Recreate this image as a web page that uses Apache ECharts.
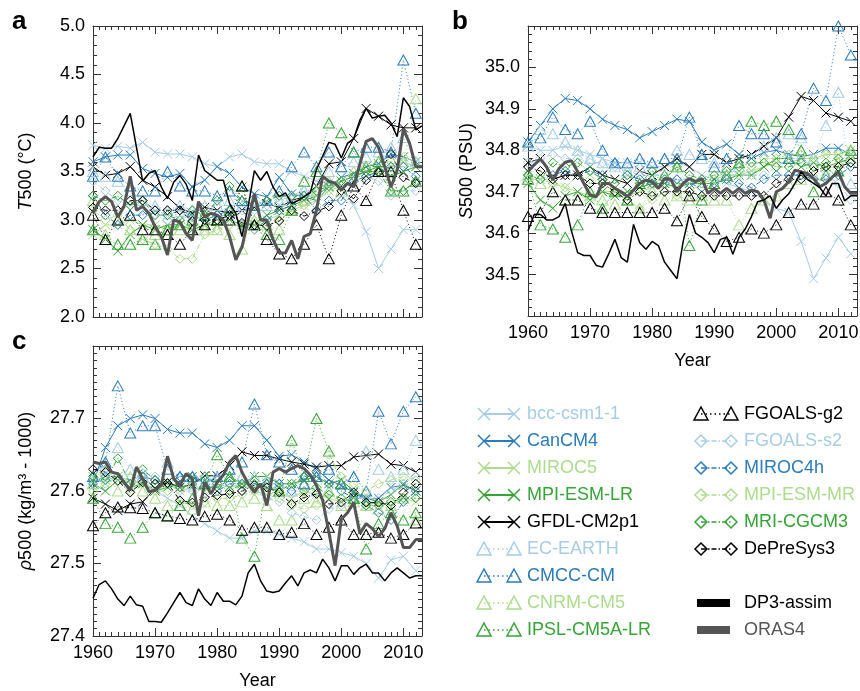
<!DOCTYPE html>
<html>
<head>
<meta charset="utf-8">
<script src="https://cdn.jsdelivr.net/npm/echarts@6/dist/echarts.min.js"></script>
<style>
  html, body { margin: 0; padding: 0; background: #fff; }
  #main { width: 860px; height: 691px; }
</style>
</head>
<body>
<div id="main"></div>
<script>
// years
var modelYears = [1960,1962,1964,1966,1968,1970,1972,1974,1976,1978,1980,1982,1984,1986,1988,1990,1992,1994,1996,1998,2000,2002,2004,2006,2008,2010,2012];
var obsYears = [1960,1961,1962,1963,1964,1965,1966,1967,1968,1969,1970,1971,1972,1973,1974,1975,1976,1977,1978,1979,1980,1981,1982,1983,1984,1985,1986,1987,1988,1989,1990,1991,1992,1993,1994,1995,1996,1997,1998,1999,2000,2001,2002,2003,2004,2005,2006,2007,2008,2009,2010,2011,2012,2013];

// panel a : T500
var tBcc     = [3.77,3.74,3.76,3.74,3.80,3.70,3.68,3.68,3.65,3.58,3.55,3.65,3.68,3.60,3.58,3.58,3.50,3.45,3.40,3.38,3.35,3.15,2.88,2.50,2.70,2.90,2.90];
var tCan     = [3.60,3.65,3.67,3.67,3.53,3.48,3.44,3.48,3.34,3.41,3.55,3.48,3.34,3.27,3.24,3.44,3.27,3.24,3.20,3.34,3.44,3.48,3.55,3.58,3.68,3.65,3.60];
var tMiroc5  = [2.85,2.95,2.95,3.00,2.95,2.95,2.90,2.95,2.90,2.95,3.00,3.00,2.90,2.95,3.00,3.05,3.10,3.15,3.20,3.30,3.35,3.40,3.45,3.50,3.55,3.60,3.55];
var tMpiLr   = [2.90,2.80,2.68,2.85,2.95,2.90,2.95,2.95,2.90,2.95,2.95,3.00,2.95,2.95,3.05,3.10,3.15,3.20,3.25,3.35,3.40,3.45,3.50,3.55,3.45,3.50,3.55];
var tGfdl    = [3.55,3.46,3.48,3.55,3.41,3.34,3.24,3.12,3.07,3.13,3.10,3.07,3.10,3.13,3.17,3.13,3.20,3.24,3.35,3.58,3.60,3.84,4.15,4.07,3.98,3.95,3.95];
var tEc      = [3.50,3.45,3.40,3.30,3.20,3.15,3.10,3.15,3.10,3.15,3.15,3.20,3.15,3.20,3.15,3.20,3.25,3.30,3.30,3.50,3.55,3.60,3.65,3.70,3.75,3.85,3.60];
var tCmcc    = [3.45,3.65,3.45,3.35,3.30,3.30,3.50,3.35,3.30,3.30,3.25,3.30,3.20,3.15,3.20,3.30,3.55,3.70,3.55,3.70,3.55,3.70,3.75,3.75,3.70,4.65,4.10];
var tCnrm    = [3.20,2.85,3.00,2.90,2.80,2.85,2.90,2.90,2.95,2.90,2.90,2.85,2.70,3.00,2.95,2.90,3.10,3.20,3.30,3.40,3.30,3.50,3.55,3.50,3.55,3.60,4.25];
var tIpsl    = [2.90,2.80,2.75,2.75,2.80,2.75,2.90,2.95,3.00,3.05,3.00,3.10,3.35,2.95,2.85,2.80,3.10,3.40,3.50,4.00,3.90,3.70,3.55,3.60,3.30,3.30,3.40];
var tFg2     = [3.05,2.80,3.00,3.05,2.90,2.90,2.85,2.75,2.90,2.95,3.00,3.00,3.35,2.95,2.80,2.65,2.60,2.75,2.95,2.60,3.05,3.35,3.20,3.50,3.50,3.10,2.75];
var tFs2     = [3.40,3.30,3.20,3.15,3.10,3.05,3.00,3.05,3.00,3.00,3.05,3.00,3.10,3.10,3.15,3.20,3.25,3.30,3.30,3.35,3.40,3.40,3.45,3.40,3.25,3.30,3.30];
var tMiroc4h = [3.25,3.05,2.95,3.05,3.05,3.10,3.05,3.10,3.05,3.00,3.05,3.10,2.95,2.90,3.00,3.10,3.15,3.25,3.10,3.20,3.20,3.40,3.45,3.50,3.55,3.55,3.45];
var tMpiMr   = [3.10,3.00,3.05,2.90,2.80,2.75,2.70,2.60,2.60,2.85,2.90,2.95,2.95,2.90,2.95,3.00,3.10,3.15,3.25,3.30,3.40,3.45,3.55,3.60,3.60,3.65,3.60];
var tMri     = [3.25,3.20,3.25,3.15,3.20,3.05,3.05,3.00,3.10,3.05,3.20,3.35,3.20,3.15,3.20,3.25,3.25,3.25,3.30,3.35,3.40,3.45,3.50,3.50,3.30,3.30,3.40];
var tDps3    = [3.13,3.10,3.10,3.20,3.20,3.10,3.10,3.10,2.99,3.00,3.00,3.05,2.97,2.95,2.94,2.99,3.10,3.04,3.09,3.14,3.30,3.22,3.41,3.49,3.68,3.44,3.38];
var tAssim   = [3.65,3.75,3.74,3.74,3.84,3.97,4.10,3.75,3.40,3.48,
                3.51,3.34,3.22,3.39,3.46,3.37,3.20,3.67,3.51,3.46,
                3.41,3.41,3.17,3.07,2.83,3.14,3.51,3.41,3.50,3.34,
                3.24,3.28,3.17,3.20,3.24,3.28,3.52,3.66,3.80,3.78,
                3.64,3.79,3.84,4.03,4.15,4.05,4.07,4.08,4.00,3.86,
                4.26,4.17,3.93,3.97];
var tOras    = [3.07,3.19,3.24,3.19,3.03,3.14,3.45,3.10,3.14,3.07,
                2.93,2.83,2.64,3.00,2.98,2.86,2.79,3.19,3.03,3.07,
                3.05,3.00,2.83,2.59,2.72,3.00,3.27,3.00,3.00,2.80,
                2.66,2.66,2.79,2.60,2.83,2.86,3.10,3.45,3.40,3.38,
                3.31,3.38,3.34,3.58,3.81,3.84,3.75,3.55,3.34,3.51,
                3.94,3.79,3.55,3.55];

// panel b : S500
var sBcc     = [34.81,34.80,34.80,34.81,34.80,34.79,34.78,34.77,34.77,34.77,34.76,34.76,34.77,34.76,34.74,34.73,34.72,34.71,34.70,34.68,34.66,34.65,34.58,34.49,34.54,34.59,34.55];
var sCan     = [34.82,34.86,34.90,34.925,34.92,34.90,34.875,34.86,34.85,34.83,34.845,34.86,34.875,34.87,34.82,34.80,34.815,34.79,34.78,34.795,34.80,34.79,34.785,34.79,34.805,34.805,34.79];
var sMiroc5  = [34.74,34.73,34.72,34.71,34.70,34.69,34.70,34.70,34.69,34.70,34.71,34.71,34.72,34.72,34.72,34.73,34.74,34.74,34.75,34.76,34.77,34.77,34.78,34.78,34.79,34.79,34.80];
var sMpiLr   = [34.72,34.68,34.66,34.69,34.70,34.68,34.70,34.69,34.70,34.71,34.72,34.72,34.71,34.72,34.72,34.72,34.73,34.74,34.74,34.76,34.78,34.78,34.76,34.77,34.76,34.77,34.78];
var sGfdl    = [34.77,34.78,34.73,34.74,34.74,34.76,34.74,34.73,34.72,34.75,34.74,34.76,34.78,34.76,34.79,34.79,34.77,34.78,34.79,34.81,34.83,34.88,34.93,34.92,34.89,34.88,34.87];
var sEc      = [34.81,34.85,34.84,34.82,34.80,34.78,34.77,34.76,34.75,34.76,34.77,34.78,34.80,34.79,34.78,34.77,34.76,34.76,34.78,34.81,34.83,34.84,34.83,34.78,34.86,34.94,34.72];
var sCmcc    = [34.82,34.83,34.88,34.85,34.84,34.87,34.80,34.77,34.77,34.78,34.77,34.78,34.78,34.88,34.79,34.76,34.78,34.86,34.84,34.84,34.82,34.78,34.84,34.95,34.92,35.10,35.03];
var sCnrm    = [34.74,34.72,34.70,34.68,34.68,34.69,34.68,34.67,34.68,34.66,34.70,34.68,34.69,34.68,34.69,34.68,34.68,34.62,34.66,34.68,34.69,34.72,34.73,34.74,34.76,34.77,34.78];
var sIpsl    = [34.73,34.62,34.61,34.59,34.62,34.70,34.66,34.70,34.68,34.72,34.73,34.74,34.76,34.57,34.68,34.72,34.74,34.77,34.87,34.86,34.87,34.85,34.80,34.70,34.74,34.75,34.80];
var sFg2     = [34.64,34.65,34.70,34.68,34.68,34.66,34.65,34.65,34.65,34.65,34.65,34.66,34.63,34.69,34.64,34.61,34.58,34.59,34.61,34.60,34.62,34.65,34.67,34.67,34.70,34.68,34.62];
var sFs2     = [34.77,34.78,34.79,34.78,34.78,34.77,34.77,34.76,34.75,34.74,34.74,34.74,34.73,34.73,34.73,34.73,34.74,34.74,34.74,34.74,34.76,34.78,34.78,34.76,34.74,34.72,34.68];
var sMiroc4h = [34.74,34.73,34.74,34.75,34.74,34.75,34.74,34.77,34.74,34.73,34.72,34.72,34.73,34.72,34.71,34.72,34.73,34.72,34.71,34.73,34.74,34.74,34.74,34.73,34.73,34.74,34.76];
var sMpiMr   = [34.73,34.74,34.72,34.71,34.74,34.73,34.72,34.70,34.68,34.66,34.68,34.70,34.69,34.70,34.72,34.73,34.75,34.74,34.76,34.78,34.78,34.79,34.79,34.78,34.79,34.79,34.80];
var sMri     = [34.74,34.73,34.77,34.76,34.77,34.75,34.73,34.72,34.74,34.72,34.75,34.73,34.76,34.74,34.73,34.74,34.75,34.76,34.77,34.77,34.76,34.76,34.77,34.76,34.77,34.78,34.77];
var sDps3    = [34.76,34.75,34.73,34.74,34.74,34.72,34.72,34.70,34.68,34.70,34.69,34.70,34.70,34.70,34.69,34.69,34.69,34.69,34.69,34.69,34.72,34.73,34.73,34.75,34.76,34.76,34.77];
var sAssim   = [34.605,34.645,34.645,34.632,34.632,34.640,34.672,34.605,34.553,34.546,
                34.546,34.522,34.518,34.550,34.585,34.541,34.530,34.621,34.577,34.561,
                34.580,34.570,34.530,34.510,34.490,34.580,34.645,34.600,34.590,34.577,
                34.553,34.585,34.590,34.549,34.590,34.610,34.640,34.676,34.680,34.690,
                34.660,34.680,34.695,34.720,34.748,34.730,34.720,34.710,34.690,34.720,
                34.720,34.678,34.690,34.690];
var sOras    = [34.748,34.765,34.779,34.760,34.728,34.756,34.771,34.775,34.748,34.720,
                34.692,34.688,34.720,34.720,34.708,34.700,34.688,34.704,34.720,34.728,
                34.724,34.708,34.732,34.730,34.700,34.720,34.732,34.724,34.732,34.696,
                34.708,34.696,34.708,34.696,34.708,34.696,34.704,34.700,34.680,34.636,
                34.700,34.708,34.724,34.752,34.748,34.744,34.732,34.712,34.720,34.735,
                34.748,34.712,34.696,34.696];

// panel c : rho500 - 1000
var rBcc     = [27.62,27.61,27.62,27.615,27.61,27.60,27.59,27.58,27.565,27.555,27.545,27.535,27.535,27.545,27.545,27.54,27.535,27.53,27.52,27.52,27.515,27.51,27.50,27.48,27.505,27.51,27.49];
var rCan     = [27.61,27.66,27.69,27.70,27.705,27.70,27.685,27.68,27.68,27.665,27.66,27.67,27.69,27.69,27.67,27.648,27.65,27.64,27.63,27.615,27.608,27.598,27.588,27.59,27.605,27.608,27.60];
var rMiroc5  = [27.62,27.615,27.62,27.61,27.615,27.60,27.61,27.60,27.605,27.60,27.61,27.605,27.61,27.60,27.595,27.60,27.59,27.60,27.595,27.59,27.585,27.59,27.58,27.585,27.58,27.59,27.585];
var rMpiLr   = [27.61,27.60,27.615,27.605,27.61,27.60,27.605,27.61,27.62,27.61,27.60,27.62,27.61,27.62,27.62,27.61,27.61,27.615,27.62,27.61,27.615,27.60,27.59,27.585,27.595,27.61,27.60];
var rGfdl    = [27.59,27.582,27.573,27.582,27.585,27.603,27.612,27.605,27.609,27.621,27.621,27.635,27.654,27.649,27.649,27.644,27.64,27.637,27.633,27.635,27.635,27.647,27.649,27.651,27.637,27.635,27.626];
var rEc      = [27.61,27.62,27.66,27.63,27.62,27.61,27.64,27.62,27.61,27.62,27.615,27.62,27.62,27.62,27.615,27.61,27.60,27.61,27.60,27.60,27.61,27.62,27.655,27.63,27.62,27.63,27.67];
var rCmcc    = [27.62,27.64,27.745,27.68,27.69,27.69,27.63,27.62,27.62,27.61,27.62,27.63,27.64,27.72,27.65,27.64,27.63,27.61,27.62,27.63,27.61,27.62,27.60,27.71,27.665,27.71,27.73];
var rCnrm    = [27.61,27.63,27.60,27.62,27.60,27.59,27.58,27.58,27.575,27.585,27.58,27.58,27.585,27.59,27.58,27.56,27.56,27.59,27.585,27.60,27.58,27.585,27.58,27.575,27.58,27.59,27.56];
var rIpsl    = [27.59,27.555,27.55,27.535,27.55,27.57,27.565,27.58,27.59,27.61,27.65,27.62,27.535,27.51,27.61,27.60,27.67,27.62,27.70,27.655,27.61,27.59,27.52,27.555,27.57,27.56,27.57];
var rFg2     = [27.552,27.57,27.578,27.577,27.576,27.57,27.566,27.562,27.56,27.565,27.568,27.56,27.546,27.55,27.55,27.54,27.543,27.555,27.54,27.55,27.56,27.54,27.54,27.543,27.535,27.54,27.556];
var rFs2     = [27.62,27.63,27.62,27.61,27.625,27.62,27.61,27.60,27.60,27.61,27.62,27.61,27.60,27.60,27.59,27.585,27.57,27.565,27.56,27.575,27.58,27.59,27.59,27.59,27.60,27.61,27.62];
var rMiroc4h = [27.61,27.62,27.62,27.61,27.62,27.615,27.61,27.62,27.62,27.615,27.60,27.61,27.61,27.605,27.61,27.61,27.60,27.62,27.62,27.61,27.60,27.59,27.58,27.57,27.56,27.585,27.60];
var rMpiMr   = [27.60,27.61,27.62,27.60,27.61,27.60,27.60,27.585,27.58,27.585,27.59,27.59,27.595,27.60,27.595,27.59,27.58,27.575,27.58,27.65,27.62,27.61,27.60,27.61,27.615,27.62,27.615];
var rMri     = [27.62,27.615,27.645,27.61,27.63,27.615,27.61,27.605,27.61,27.62,27.61,27.60,27.61,27.61,27.605,27.60,27.61,27.60,27.605,27.595,27.59,27.585,27.58,27.58,27.585,27.59,27.59];
var rDps3    = [27.63,27.626,27.614,27.598,27.612,27.61,27.611,27.587,27.584,27.591,27.594,27.596,27.60,27.608,27.605,27.598,27.582,27.591,27.596,27.582,27.584,27.598,27.584,27.584,27.58,27.598,27.61];
var rAssim   = [27.452,27.471,27.476,27.465,27.451,27.442,27.455,27.443,27.441,27.420,
                27.420,27.419,27.432,27.446,27.460,27.446,27.442,27.465,27.451,27.442,
                27.460,27.448,27.448,27.443,27.455,27.487,27.499,27.476,27.462,27.460,
                27.462,27.473,27.483,27.469,27.487,27.491,27.487,27.506,27.494,27.476,
                27.497,27.497,27.485,27.494,27.499,27.487,27.487,27.476,27.487,27.494,
                27.487,27.480,27.483,27.483];
var rOras    = [27.640,27.638,27.640,27.626,27.624,27.612,27.601,27.633,27.617,27.599,
                27.601,27.608,27.648,27.617,27.608,27.624,27.617,27.566,27.612,27.596,
                27.612,27.622,27.640,27.649,27.626,27.610,27.598,27.610,27.580,27.626,
                27.631,27.626,27.631,27.635,27.631,27.622,27.608,27.587,27.543,27.497,
                27.561,27.570,27.584,27.541,27.555,27.548,27.537,27.548,27.570,27.552,
                27.522,27.522,27.533,27.533];

// models, in legend order
var modelNames  = ['bcc-csm1-1','CanCM4','MIROC5','MPI-ESM-LR','GFDL-CM2p1','EC-EARTH','CMCC-CM','CNRM-CM5','IPSL-CM5A-LR',
                   'FGOALS-g2','FGOALS-s2','MIROC4h','MPI-ESM-MR','MRI-CGCM3','DePreSys3'];
var modelMarks  = ['x','x','x','x','x','tri','tri','tri','tri','tri','dia','dia','dia','dia','dia'];
var lightBlue = '#a6cde4', blue = '#2b7bba', lightGreen = '#acdc8c', green = '#36a336';
var modelColors = [lightBlue, blue, lightGreen, green, '#000', lightBlue, blue, lightGreen, green,
                   '#000', lightBlue, blue, lightGreen, green, '#000'];
var panelT = [tBcc,tCan,tMiroc5,tMpiLr,tGfdl,tEc,tCmcc,tCnrm,tIpsl,tFg2,tFs2,tMiroc4h,tMpiMr,tMri,tDps3];
var panelS = [sBcc,sCan,sMiroc5,sMpiLr,sGfdl,sEc,sCmcc,sCnrm,sIpsl,sFg2,sFs2,sMiroc4h,sMpiMr,sMri,sDps3];
var panelR = [rBcc,rCan,rMiroc5,rMpiLr,rGfdl,rEc,rCmcc,rCnrm,rIpsl,rFg2,rFs2,rMiroc4h,rMpiMr,rMri,rDps3];

var FONT = '"Liberation Sans", Arial, Helvetica, sans-serif';
var markSymbol = { x: 'path://M0,0L10,10M10,0L0,10', tri: 'triangle', dia: 'diamond' };
var markSize = { x: 9, tri: [11, 10], dia: 9 };
var markDash = { x: 'solid', tri: [1, 2.5], dia: [5, 2, 1, 2] };

var chart = echarts.init(document.getElementById('main'), null, { renderer: 'canvas' });

function pairs(xs, ys) {
    return ys.map(function (v, i) { return [xs[i], v]; });
}

function modelSeries(panel, k, values) {
    var m = modelMarks[k];
    return {
        type: 'line', name: modelNames[k],
        xAxisIndex: panel, yAxisIndex: panel,
        data: pairs(modelYears, values),
        symbol: markSymbol[m], symbolSize: markSize[m],
        showAllSymbol: true,
        itemStyle: { color: 'rgba(0,0,0,0)', borderColor: modelColors[k], borderWidth: 1 },
        lineStyle: { color: modelColors[k], width: 1, type: markDash[m] },
        emphasis: { disabled: true }, silent: true, z: 2
    };
}

function obsSeries(panel, name, values, color, width) {
    return {
        type: 'line', name: name,
        xAxisIndex: panel, yAxisIndex: panel,
        data: pairs(obsYears, values),
        symbol: 'none',
        lineStyle: { color: color, width: width },
        emphasis: { disabled: true }, silent: true, z: 5
    };
}

var series = [];
[panelT, panelS, panelR].forEach(function (list, p) {
    list.forEach(function (vals, k) { series.push(modelSeries(p, k, vals)); });
});
series.push(obsSeries(0, 'ORAS4', tOras, '#555', 3));
series.push(obsSeries(1, 'ORAS4', sOras, '#555', 3));
series.push(obsSeries(2, 'ORAS4', rOras, '#555', 3));
series.push(obsSeries(0, 'DP3-assim', tAssim, '#000', 1.5));
series.push(obsSeries(1, 'DP3-assim', sAssim, '#000', 1.5));
series.push(obsSeries(2, 'DP3-assim', rAssim, '#000', 1.5));

var axisLine = { show: true, lineStyle: { color: '#333', width: 1 } };

function xAx(g, pos, labels, name) {
    return {
        type: 'value', gridIndex: g, position: pos,
        min: 1960, max: 2013, interval: 10,
        axisLine: axisLine,
        axisTick: { show: true, inside: true, length: 8, lineStyle: { color: '#333' } },
        minorTick: { show: true, splitNumber: 10, length: 4, lineStyle: { color: '#333' } },
        axisLabel: { show: labels, color: '#000', fontSize: 18, fontFamily: FONT, margin: 8,
                     formatter: function (v) { return String(v); } },
        splitLine: { show: false },
        name: name || '', nameLocation: 'middle', nameGap: 36,
        nameTextStyle: { color: '#000', fontSize: 18, fontFamily: FONT }
    };
}

function yAx(g, pos, mn, mx, step, minor, labels, name, gap, extra) {
    var ax = {
        type: 'value', gridIndex: g, position: pos,
        min: mn, max: mx, interval: step,
        axisLine: axisLine,
        axisTick: { show: true, inside: true, length: 8, lineStyle: { color: '#333' } },
        minorTick: { show: true, splitNumber: minor, length: 4, lineStyle: { color: '#333' } },
        axisLabel: { show: labels, color: '#000', fontSize: 18, fontFamily: FONT, margin: 8,
                     formatter: function (v) { return v.toFixed(1); } },
        splitLine: { show: false },
        name: name || '', nameLocation: 'middle', nameGap: gap || 52, nameRotate: 90,
        nameTextStyle: { color: '#000', fontSize: 18, fontFamily: FONT,
                         rich: { i: { fontStyle: 'italic', fontSize: 18, fontFamily: FONT, color: '#000' } } }
    };
    if (extra) { for (var key in extra) ax.axisLabel[key] = extra[key]; }
    return ax;
}

// legend, drawn from the model table
var graphics = [];
function legendMark(m, cx, cy, color) {
    if (m === 'x') {
        graphics.push({ type: 'line', shape: { x1: cx - 6, y1: cy - 6, x2: cx + 6, y2: cy + 6 }, style: { stroke: color, lineWidth: 1.5 } });
        graphics.push({ type: 'line', shape: { x1: cx - 6, y1: cy + 6, x2: cx + 6, y2: cy - 6 }, style: { stroke: color, lineWidth: 1.5 } });
    } else if (m === 'tri') {
        graphics.push({ type: 'polygon', shape: { points: [[cx, cy - 7], [cx + 7, cy + 6], [cx - 7, cy + 6]] }, style: { fill: 'none', stroke: color, lineWidth: 1.5 } });
    } else {
        graphics.push({ type: 'polygon', shape: { points: [[cx, cy - 6], [cx + 6, cy], [cx, cy + 6], [cx - 6, cy]] }, style: { fill: 'none', stroke: color, lineWidth: 1.5 } });
    }
}
var rowY = [414, 441, 468, 495, 522, 549, 576, 603, 630];
modelNames.forEach(function (name, k) {
    var col = k < 9 ? 0 : 1;
    var row = col === 0 ? k : k - 9;
    var x0 = col === 0 ? 484 : 701;
    var x1 = x0 + 30;
    var tx = col === 0 ? 527 : 744;
    var y = rowY[row];
    var m = modelMarks[k];
    var c = modelColors[k];
    graphics.push({ type: 'line', shape: { x1: x0, y1: y, x2: x1, y2: y },
        style: { stroke: c, lineWidth: m === 'x' ? 2 : 1.5, lineDash: m === 'x' ? null : (m === 'tri' ? [1.5, 3] : [5, 2, 1.5, 2]) } });
    legendMark(m, x0, y, c);
    legendMark(m, x1, y, c);
    graphics.push({ type: 'text', x: tx, y: y, style: { text: name, fill: c, fontSize: 18, fontFamily: FONT, verticalAlign: 'middle' } });
});
[['DP3-assim', '#000', 603], ['ORAS4', '#555', 630]].forEach(function (o) {
    graphics.push({ type: 'rect', shape: { x: 697, y: o[2] - 4, width: 33, height: 8 }, style: { fill: o[1] } });
    graphics.push({ type: 'text', x: 744, y: o[2], style: { text: o[0], fill: o[0] === 'ORAS4' ? '#555' : '#000', fontSize: 18, fontFamily: FONT, verticalAlign: 'middle' } });
});
[['a', 12, 22], ['b', 452, 22], ['c', 12, 342]].forEach(function (o) {
    graphics.push({ type: 'text', x: o[1], y: o[2], style: { text: o[0], fill: '#000', fontSize: 26, fontWeight: 'bold', fontFamily: FONT, verticalAlign: 'middle' } });
});

var option = {
    backgroundColor: '#fff',
    animation: false,
    grid: [
        { left: 93, top: 26, width: 329, height: 291, outerBoundsMode: 'none' },
        { left: 528, top: 26, width: 329, height: 290, outerBoundsMode: 'none' },
        { left: 93, top: 346, width: 329, height: 290, outerBoundsMode: 'none' }
    ],
    xAxis: [
        xAx(0, 'bottom', false),
        xAx(1, 'bottom', true, 'Year'),
        xAx(2, 'bottom', true, 'Year'),
        xAx(0, 'top', false),
        xAx(1, 'top', false),
        xAx(2, 'top', false)
    ],
    yAxis: [
        yAx(0, 'left', 2, 5, 0.5, 5, true, '{i|T}500 (°C)', 58),
        yAx(1, 'left', 34.4, 35.1, 0.1, 5, true, '{i|S}500 (PSU)', 52, { showMinLabel: false, showMaxLabel: false }),
        yAx(2, 'left', 27.4, 27.8, 0.1, 10, true, '{i|ρ}500 (kg/m³ - 1000)', 58, { showMaxLabel: false }),
        yAx(0, 'right', 2, 5, 0.5, 5, false),
        yAx(1, 'right', 34.4, 35.1, 0.1, 5, false),
        yAx(2, 'right', 27.4, 27.8, 0.1, 10, false)
    ],
    series: series,
    graphic: graphics
};

chart.setOption(option);
</script>
</body>
</html>
